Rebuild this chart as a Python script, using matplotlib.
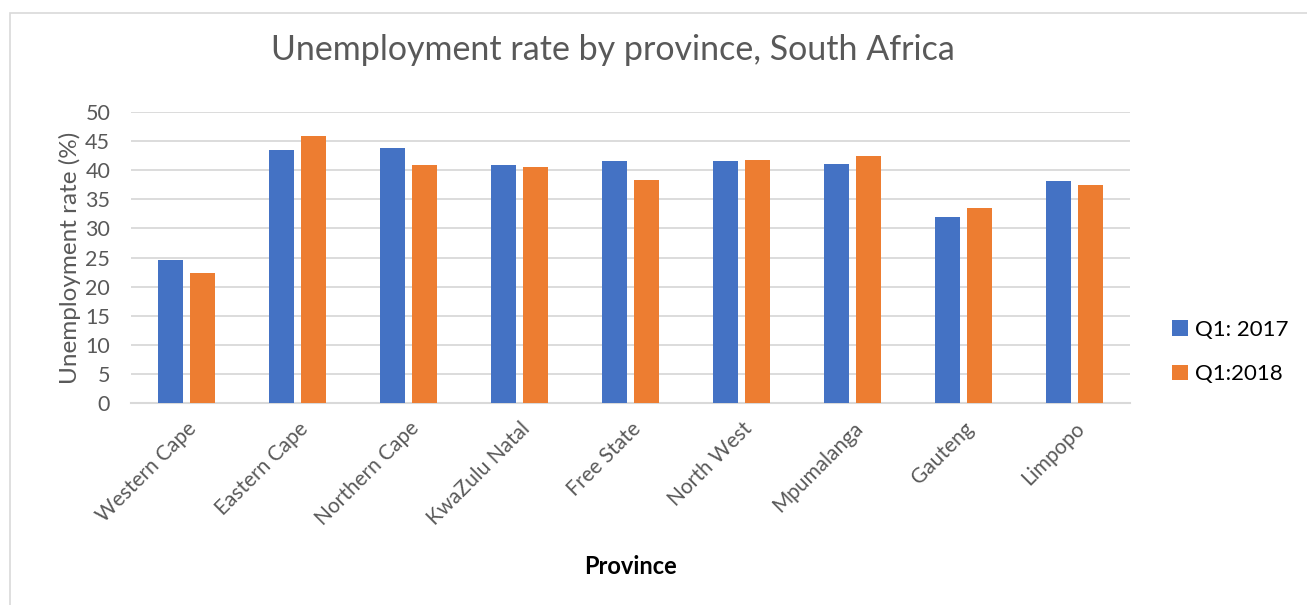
import numpy as np
import matplotlib.pyplot as plt
from matplotlib.patches import Rectangle

provinces = ["Western Cape", "Eastern Cape", "Northern Cape", "KwaZulu Natal",
             "Free State", "North West", "Mpumalanga", "Gauteng", "Limpopo"]
q1_2017 = [24.6, 43.5, 43.8, 40.9, 41.6, 41.6, 41.1, 31.9, 38.1]
q1_2018 = [22.4, 45.9, 40.9, 40.5, 38.3, 41.7, 42.4, 33.5, 37.5]
series_labels = ["Q1: 2017", "Q1:2018"]

BLUE = "#4472c4"
ORANGE = "#ed7d31"
GRID = "#d9d9d9"
TXT = "#595959"

plt.rcParams["font.family"] = ["Lato", "DejaVu Sans"]

fig = plt.figure(figsize=(13.07, 6.05), dpi=100)
fig.patches.append(Rectangle((10 / 1307, -0.01), 1.05, 1 - 13 / 605 + 0.01,
                             transform=fig.transFigure, fill=False,
                             edgecolor=GRID, linewidth=1.2))

ax = fig.add_axes([131 / 1307, 1 - 403 / 605, 999 / 1307, 291 / 605])
x = np.arange(len(provinces))
w = 0.225
off = 0.142
ax.bar(x - off, q1_2017, w, color=BLUE, label=series_labels[0], zorder=3)
ax.bar(x + off, q1_2018, w, color=ORANGE, label=series_labels[1], zorder=3)

ax.set_xlim(-0.5, len(provinces) - 0.5)
ax.set_ylim(0, 50)
ax.set_yticks(np.arange(0, 51, 5))
ax.yaxis.grid(True, color=GRID, linewidth=1.3, zorder=0)
ax.set_axisbelow(True)
for s in ["top", "right", "left"]:
    ax.spines[s].set_visible(False)
ax.spines["bottom"].set_color(GRID)
ax.spines["bottom"].set_linewidth(1.5)
ax.tick_params(axis="both", length=0, labelcolor=TXT)
ax.tick_params(axis="y", pad=15, labelsize=15.5)
ax.set_xticks(x)
ax.set_xticklabels(provinces, rotation=45, ha="right", rotation_mode="anchor")
ax.tick_params(axis="x", pad=11, labelsize=15)

ax.set_ylabel("Unemployment rate (%)", fontsize=17.5, color=TXT, labelpad=3)
fig.text(630 / 1307, 1 - 567 / 605, "Province", ha="center", va="center",
         fontsize=17, fontweight="bold", color="black")
fig.text(613 / 1307, 1 - 50 / 605, "Unemployment rate by province, South Africa",
         ha="center", va="center", fontsize=24.5, color=TXT)

ax.legend(loc="center left", bbox_to_anchor=(1.022, 0.175), frameon=False,
          fontsize=16, handlelength=0.7, handleheight=0.7, handletextpad=0.35,
          labelspacing=1.1)

fig.savefig("out.png", dpi=100)
